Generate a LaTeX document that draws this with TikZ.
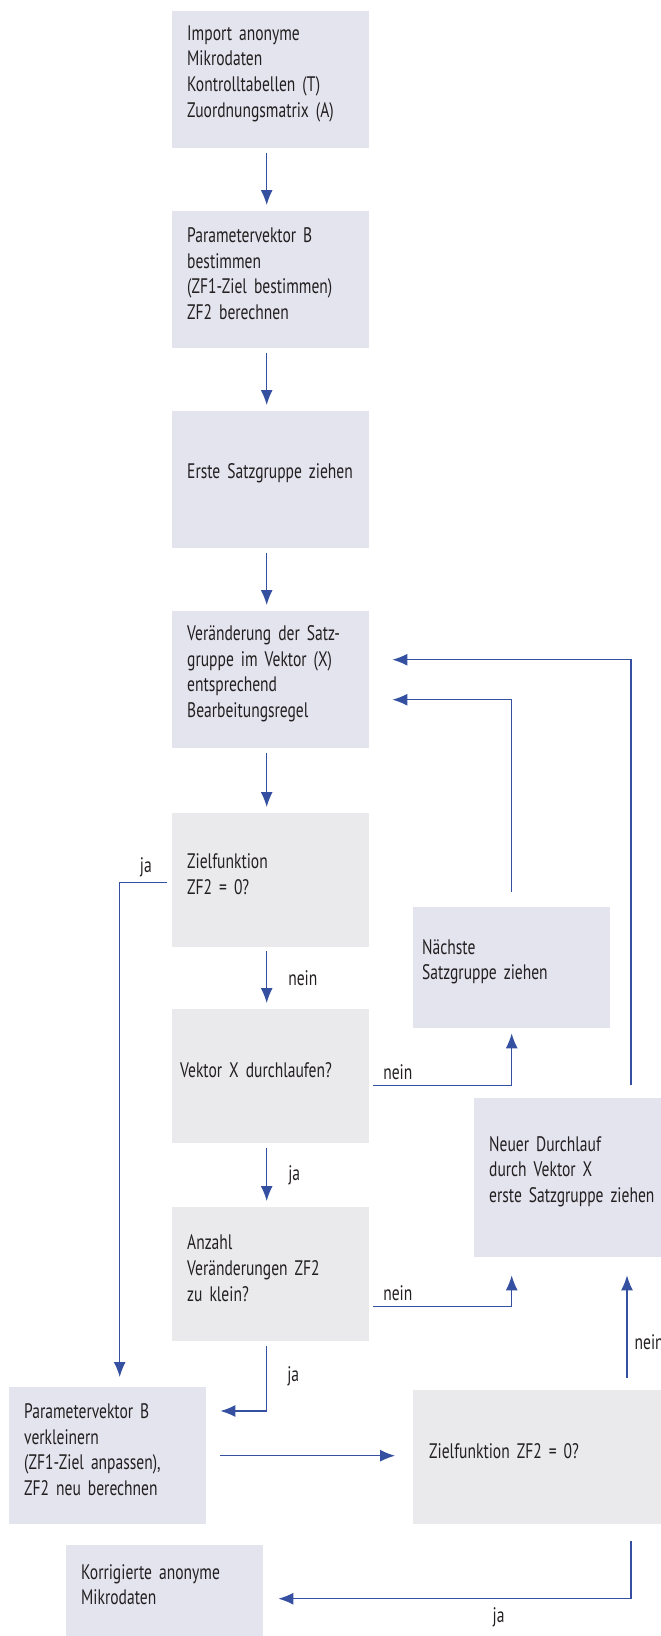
\documentclass[tikz,border=0pt]{standalone}
\usepackage{fontspec}
\setmainfont{PT Sans}[FakeStretch=0.74,WordSpace=0.6]
\usetikzlibrary{arrows.meta}
\definecolor{boxfill}{HTML}{E4E4EF}
\definecolor{askfill}{HTML}{EAEAEC}
\definecolor{flow}{HTML}{3550A0}
\definecolor{ink}{HTML}{231F20}
\newcommand\boxtail{\par\vspace*{12pt}}

\begin{document}
\begin{tikzpicture}[x=1pt,y=-1pt,
  box/.style={fill=boxfill,anchor=north west,minimum width=197pt,minimum height=137pt,
    text width=167pt,align=left,inner xsep=15pt,inner ysep=0pt,text=ink,
    font=\fontsize{21}{25.7}\selectfont,execute at end node=\boxtail},
  ask/.style={box,fill=askfill,minimum height=134pt},
  arr/.style={draw=flow,line width=1.2pt,-{Latex[length=15pt,width=12pt]}},
  lbl/.style={text=ink,inner sep=0pt,font=\fontsize{21}{25.7}\selectfont}]
  \useasboundingbox (0,0) rectangle (661,1636);
  \clip (0,0) rectangle (661,1636);
  \coordinate (rx) at (631,0);
  % main column
  \node[box] (imp) at (172,11) {Import anonyme\\Mikrodaten\\Kontrolltabellen (T)\\Zuordnungsmatrix (A)};
  \node[box] (par) at (172,211) {Parametervektor B\\bestimmen\\(ZF1-Ziel bestimmen)\\ZF2 berechnen};
  \node[box] (ers) at (172,411) {Erste Satzgruppe ziehen};
  \node[box] (ver) at (172,611) {Veränderung der Satz-\\gruppe im Vektor (X)\\entsprechend\\Bearbeitungsregel};
  \node[ask] (zf) at (172,813) {Zielfunktion\\ZF2 = 0?};
  \node[ask,inner xsep=8pt,text width=181pt] (vx) at (172,1009) {Vektor X durchlaufen?};
  \node[ask] (anz) at (172,1207) {Anzahl\\Veränderungen ZF2\\zu klein?};
  \node[box] (pv) at (9,1387) {Parametervektor B\\verkleinern\\(ZF1-Ziel anpassen),\\ZF2 neu berechnen};
  \node[box,minimum height=91pt] (kor) at (66,1545) {Korrigierte anonyme\\Mikrodaten};
  % right column
  \node[box,minimum height=121pt,inner xsep=9pt,text width=179pt] (nx) at (413,907) {Nächste\\Satzgruppe ziehen};
  \node[box,minimum height=159pt] (nu) at (474,1098) {Neuer Durchlauf\\durch Vektor X\\erste Satzgruppe ziehen};
  \node[ask,minimum width=260pt,inner xsep=16pt,text width=228pt] (zfe) at (413,1390) {Zielfunktion ZF2 = 0?};

  \foreach \a/\b in {imp/par,par/ers,ers/ver,ver/zf}
    \draw[arr,shorten <=5pt,shorten >=6pt] ([xshift=-4pt]\a.south) -- ([xshift=-4pt]\b.north);
  \draw[arr,shorten <=4pt,shorten >=6pt] ([xshift=-4pt]zf.south) -- ([xshift=-4pt]vx.north)
    node[lbl,midway,right=21pt] {nein};
  \draw[arr,shorten <=5pt,shorten >=6pt] ([xshift=-4pt]vx.south) -- ([xshift=-4pt]anz.north)
    node[lbl,midway,right=21pt] {ja};
  \draw[arr,shorten <=5pt,shorten >=14pt] ([xshift=-4pt]anz.south) |- ([yshift=-24pt]pv.north east)
    node[lbl,pos=.25,right=20pt] {ja};
  \draw[arr,shorten <=14pt,shorten >=18pt] (pv.east) -- (pv.east -| zfe.west);
  \draw[arr,shorten <=5pt,shorten >=10pt] ([yshift=-2pt]zf.west) -| ([xshift=12pt]pv.north)
    node[lbl,pos=.25,above=5pt] {ja};
  \draw[arr,shorten <=4pt,shorten >=5pt] ([yshift=-9pt]vx.east) -| (nx.south)
    node[lbl,pos=.1,above=5pt] {nein};
  \draw[arr,shorten <=4pt,shorten >=18pt] ([yshift=-32pt]anz.east) -| (nx.south |- nu.south)
    node[lbl,pos=.1,above=5pt] {nein};
  \draw[arr,shorten <=12pt,shorten >=18pt] ([xshift=-4pt]zfe.north -| rx) -- ([xshift=-4pt]nu.south -| rx)
    node[lbl,pos=.36,right=7pt] {nein};
  \draw[arr,shorten <=17pt,shorten >=15pt] (zfe.south -| rx) |- ([yshift=-8pt]kor.east)
    node[lbl,pos=.68,below=8pt] {ja};
  \draw[arr,shorten <=15pt,shorten >=23pt] (nx.north) |- ([yshift=-20pt]ver.east);
  \draw[arr,shorten <=13pt,shorten >=23pt] (nu.north -| rx) |- ([yshift=20pt]ver.east);
\end{tikzpicture}
\end{document}
